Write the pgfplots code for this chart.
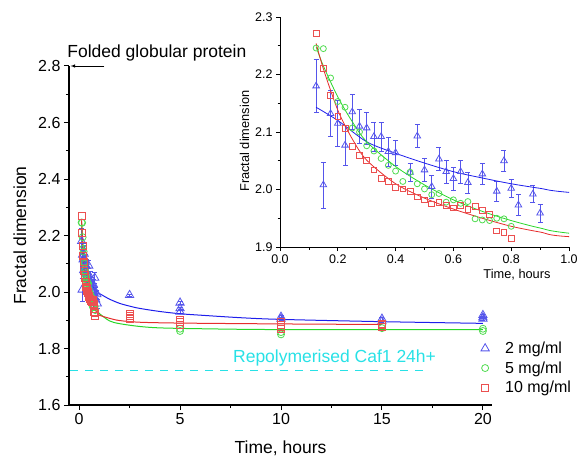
\documentclass[border=0pt]{standalone}
\usepackage{fontspec}
\setmainfont{Liberation Sans}
\usepackage{pgfplots}
\usepackage{pgfplotstable}
\pgfplotsset{compat=1.18}

\definecolor{cblue}{RGB}{30,30,235}
\definecolor{mblue}{RGB}{85,85,235}
\definecolor{cgreen}{RGB}{40,215,40}
\definecolor{mgreen}{RGB}{80,220,80}
\definecolor{cred}{RGB}{230,45,45}
\definecolor{mred}{RGB}{235,80,80}
\definecolor{ccyan}{RGB}{40,225,230}

% 2 mg/ml, t < 1 h (with error bars)
\pgfplotstableread{
t D e
0.125 2.180 0.046
0.15 2.008 0.040
0.175 2.132 0.040
0.2 2.115 0.040
0.225 2.077 0.035
0.25 2.135 0.030
0.275 2.110 0.030
0.3 2.107 0.028
0.325 2.092 0.025
0.35 2.092 0.025
0.375 2.066 0.025
0.4 2.064 0.022
0.45 2.030 0.015
0.475 2.093 0.020
0.5 2.034 0.020
0.525 2.005 0.020
0.55 2.053 0.020
0.575 2.031 0.020
0.6 2.019 0.020
0.625 2.031 0.020
0.65 2.012 0.018
0.7 2.027 0.018
0.75 1.997 0.018
0.775 2.050 0.018
0.8 2.002 0.015
0.825 1.973 0.018
0.875 1.992 0.015
0.9 1.959 0.016
}\blueA
\pgfplotstableread{
t D e
2.5 1.989 0.004
5 1.962 0.004
5 1.942 0.004
5 1.930 0.004
10 1.912 0.004
10 1.905 0.004
15 1.905 0.004
15 1.896 0.004
20 1.918 0.004
20 1.910 0.004
20 1.905 0.004
}\blueB
% 5 mg/ml
\pgfplotstableread{
t D
0.125 2.246
0.15 2.245
0.175 2.194
0.2 2.153
0.225 2.143
0.25 2.107
0.275 2.100
0.3 2.076
0.325 2.067
0.35 2.054
0.375 2.042
0.4 2.032
0.425 2.014
0.45 2.030
0.475 2.010
0.5 2.001
0.525 1.991
0.55 1.993
0.575 1.978
0.6 1.982
0.625 1.976
0.65 1.979
0.675 1.949
0.7 1.947
0.725 1.946
0.75 1.950
0.775 1.949
0.8 1.936
}\greenA
\pgfplotstableread{
t D
5 1.870
5 1.862
10 1.858
10 1.850
15 1.872
20 1.870
20 1.862
}\greenB
% 10 mg/ml
\pgfplotstableread{
t D
0.125 2.271
0.15 2.210
0.175 2.163
0.2 2.127
0.225 2.106
0.25 2.075
0.275 2.059
0.3 2.051
0.325 2.034
0.35 2.019
0.375 2.014
0.4 2.004
0.425 2.001
0.45 1.997
0.475 1.987
0.5 1.982
0.525 1.975
0.55 1.977
0.575 1.973
0.6 1.968
0.625 1.972
0.65 1.966
0.675 1.971
0.7 1.964
0.725 1.957
0.75 1.928
0.775 1.926
0.8 1.915
}\redA
\pgfplotstableread{
t D
2.5 1.922
2.5 1.915
2.5 1.908
2.5 1.905
5 1.900
5 1.893
5 1.885
10 1.893
10 1.885
10 1.878
10 1.870
15 1.888
15 1.882
15 1.876
}\redB
% fitted curves
\pgfplotstableread{
t D
0.125 2.143
0.2 2.120
0.3 2.083
0.4 2.063
0.5 2.046
0.6 2.031
0.7 2.020
0.8 2.010
0.9 2.002
1.0 1.995
1.5 1.975
2 1.960
2.5 1.950
3 1.942
4 1.931
5 1.923
6 1.918
8 1.909
10 1.903
15 1.895
20 1.889
}\blueFit
\pgfplotstableread{
t D
0.125 2.248
0.15 2.215
0.2 2.161
0.25 2.118
0.3 2.083
0.4 2.040
0.5 2.008
0.6 1.982
0.7 1.962
0.8 1.946
0.9 1.933
1.0 1.924
1.5 1.898
2 1.888
3 1.878
4 1.873
6 1.870
10 1.867
20 1.867
}\greenFit
\pgfplotstableread{
t D
0.125 2.254
0.15 2.210
0.2 2.138
0.25 2.088
0.3 2.051
0.4 2.010
0.5 1.985
0.6 1.966
0.7 1.950
0.8 1.936
0.9 1.926
1.0 1.918
1.5 1.907
2 1.899
3 1.893
5 1.890
10 1.887
15 1.885
}\redFit

\pgfplotsset{
  bluemarks/.style={only marks, mark=triangle, mark options={draw=mblue, line width=0.8pt}},
  greenmarks/.style={only marks, mark=o, mark options={draw=mgreen, line width=0.8pt}},
  redmarks/.style={only marks, mark=square, mark options={draw=mred, line width=0.8pt}},
  blueerr/.style={error bars/y dir=both, error bars/y explicit,
    error bars/error bar style={mblue, line width=0.7pt},
    error bars/error mark options={rotate=90, mark size=2.5pt, mblue, line width=0.7pt}},
}

\begin{document}
\begin{tikzpicture}
\begin{axis}[name=main, scale only axis, width=423pt, height=339pt,
  xmin=-0.5, xmax=20.45, ymin=1.6, ymax=2.8,
  axis lines*=left, tick align=outside, clip=false,
  axis line style={line width=1.3pt},
  every tick/.style={black, line width=1pt},
  major tick length=5pt, minor tick length=3pt,
  xtick={0,5,10,15,20}, ytick={1.6,1.8,2.0,2.2,2.4,2.6,2.8},
  minor x tick num=1, minor y tick num=1,
  /pgf/number format/assume math mode=true,
  yticklabel style={/pgf/number format/fixed, /pgf/number format/fixed zerofill, /pgf/number format/precision=1},
  tick label style={font=\fontsize{16}{19}\selectfont},
  xlabel={Time, hours}, ylabel={Fractal dimension},
  every axis x label/.style={at={(axis description cs:0.5,-0.127)}, anchor=center, font=\fontsize{17.5}{20}\selectfont},
  every axis y label/.style={at={(axis description cs:-0.116,0.5)}, rotate=90, anchor=center, font=\fontsize{17.5}{20}\selectfont},
  legend style={draw=none, fill=none, at={(axis description cs:0.962,0.109)}, anchor=west,
    font=\fontsize{16}{19}\selectfont, row sep=2.5pt},
  legend cell align=left,
  legend image code/.code={\path[draw=none] (-6pt,0pt) (18pt,0pt); \draw[#1] plot coordinates {(0pt,0pt)};},
]
\addplot[bluemarks, mark size=4.8pt, blueerr] table[x=t, y=D, y error=e] {\blueA};
\addlegendentry{2 mg/ml}
\addplot[greenmarks, mark size=3.5pt] table[x=t, y=D] {\greenA};
\addlegendentry{5 mg/ml}
\addplot[redmarks, mark size=3.5pt] table[x=t, y=D] {\redA};
\addlegendentry{10 mg/ml}
\addplot[forget plot, bluemarks, mark size=4.8pt, blueerr] table[x=t, y=D, y error=e] {\blueB};
\addplot[forget plot, greenmarks, mark size=3.5pt] table[x=t, y=D] {\greenB};
\addplot[forget plot, redmarks, mark size=3.5pt] table[x=t, y=D] {\redB};
\addplot[forget plot, cblue, line width=1pt, smooth] table[x=t, y=D] {\blueFit};
\addplot[forget plot, cgreen, line width=1pt, smooth] table[x=t, y=D] {\greenFit};
\addplot[forget plot, cred, line width=1pt, smooth] table[x=t, y=D] {\redFit};
\addplot[forget plot, ccyan, line width=1.6pt, dash pattern=on 8pt off 7pt] coordinates {(-0.45,1.722) (17.2,1.722)};
\node[anchor=base west, inner sep=0pt, text=ccyan, font=\fontsize{17.5}{20}\selectfont] at (axis cs:7.62,1.75) {Repolymerised Caf1 24h+};
\draw[-latex, line width=0.6pt] (axis cs:1.25,2.8) -- (axis cs:-0.42,2.8);
\node[anchor=base west, inner sep=0pt, font=\fontsize{17.5}{20}\selectfont] at ([yshift=8.7pt]axis cs:-0.59,2.8) {Folded globular protein};
\end{axis}

\begin{axis}[at={(main.south west)}, anchor=south west, xshift=211pt, yshift=158pt,
  scale only axis, width=289pt, height=230pt,
  xmin=0, xmax=1, ymin=1.9, ymax=2.3,
  axis lines*=left, tick align=outside,
  axis line style={line width=1pt},
  every tick/.style={black, line width=0.8pt},
  major tick length=4pt, minor tick length=2.5pt,
  xtick={0,0.2,0.4,0.6,0.8,1.0}, ytick={1.9,2.0,2.1,2.2,2.3},
  minor x tick num=1, minor y tick num=1,
  /pgf/number format/assume math mode=true,
  ticklabel style={/pgf/number format/fixed, /pgf/number format/fixed zerofill, /pgf/number format/precision=1},
  tick label style={font=\fontsize{12.5}{15}\selectfont},
  xlabel={Time, hours}, ylabel={Fractal dimension},
  every axis x label/.style={at={(axis description cs:0.82,-0.122)}, anchor=center, font=\fontsize{12.8}{15}\selectfont},
  every axis y label/.style={at={(axis description cs:-0.123,0.46)}, rotate=90, anchor=center, font=\fontsize{12.8}{15}\selectfont},
]
\addplot[bluemarks, mark size=3.8pt, blueerr] table[x=t, y=D, y error=e] {\blueA};
\addplot[greenmarks, mark size=3pt] table[x=t, y=D] {\greenA};
\addplot[redmarks, mark size=2.9pt] table[x=t, y=D] {\redA};
\addplot[cblue, line width=0.8pt, smooth] table[x=t, y=D] {\blueFit};
\addplot[cgreen, line width=0.8pt, smooth] table[x=t, y=D] {\greenFit};
\addplot[cred, line width=0.8pt, smooth] table[x=t, y=D] {\redFit};
\end{axis}
\pgfresetboundingbox
\path (main.south west) ++(-69pt,-56pt) rectangle ++(578pt,461pt);
\end{tikzpicture}
\end{document}
